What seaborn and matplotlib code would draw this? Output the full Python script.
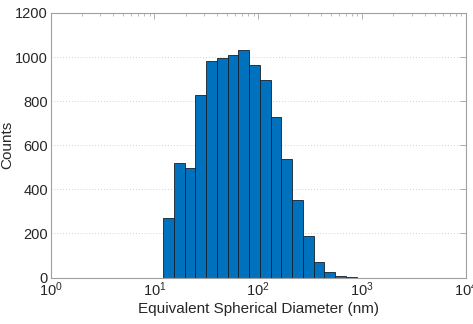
import numpy as np
import pandas as pd
import matplotlib
matplotlib.use("Agg")
import matplotlib.pyplot as plt
import seaborn as sns
from matplotlib.ticker import LogLocator, MultipleLocator

# Histogram data (log-spaced bins)
log_edge_start = 1.085
log_bin_width = 0.1035
counts = [268, 520, 498, 829, 981, 997, 1009, 1033, 966, 894, 726, 538, 351, 190, 70, 25, 6, 2]

n = len(counts)
log_centers = log_edge_start + log_bin_width * (np.arange(n) + 0.5)
df = pd.DataFrame({"diameter": 10 ** log_centers, "count": counts})

sns.set_theme(style="white")
plt.rcParams["font.family"] = ["Liberation Sans", "DejaVu Sans"]

fig = plt.figure(figsize=(4.73, 3.24), dpi=100)
ax = fig.add_axes([0.107, 0.1435, 0.878, 0.8165])

sns.histplot(data=df, x="diameter", weights="count", log_scale=True,
             binwidth=log_bin_width,
             binrange=(log_edge_start, log_edge_start + n * log_bin_width),
             color="#0072BD", alpha=1.0, edgecolor="#14202c", linewidth=0.6, ax=ax)

ax.set_xlim(1, 1e4)
ax.set_ylim(0, 1200)
ax.yaxis.set_major_locator(MultipleLocator(200))
ax.xaxis.set_major_locator(LogLocator(base=10, numticks=10))
ax.xaxis.set_minor_locator(LogLocator(base=10, subs=np.arange(2, 10), numticks=100))

ax.set_xlabel("Equivalent Spherical Diameter (nm)", fontsize=11, color="#262626", labelpad=2)
ax.set_ylabel("Counts", fontsize=11, color="#262626")
ax.yaxis.set_label_coords(-0.088, 0.5)

ax.yaxis.grid(True, linestyle=(0, (1, 2.5)), color="#c4c4c4", linewidth=0.6)
ax.set_axisbelow(True)

for s in ax.spines.values():
    s.set_color("#a0a0a0")
    s.set_linewidth(0.8)

ax.tick_params(axis="both", which="both", direction="in", top=True, right=True,
               colors="#a0a0a0", labelcolor="#262626", labelsize=10.5)
ax.tick_params(axis="both", which="major", length=4, width=0.6)
ax.tick_params(axis="x", which="minor", length=2, width=0.5)
ax.tick_params(axis="x", which="major", pad=2)
ax.tick_params(axis="y", which="major", pad=2)

fig.savefig("out.png", dpi=100)
